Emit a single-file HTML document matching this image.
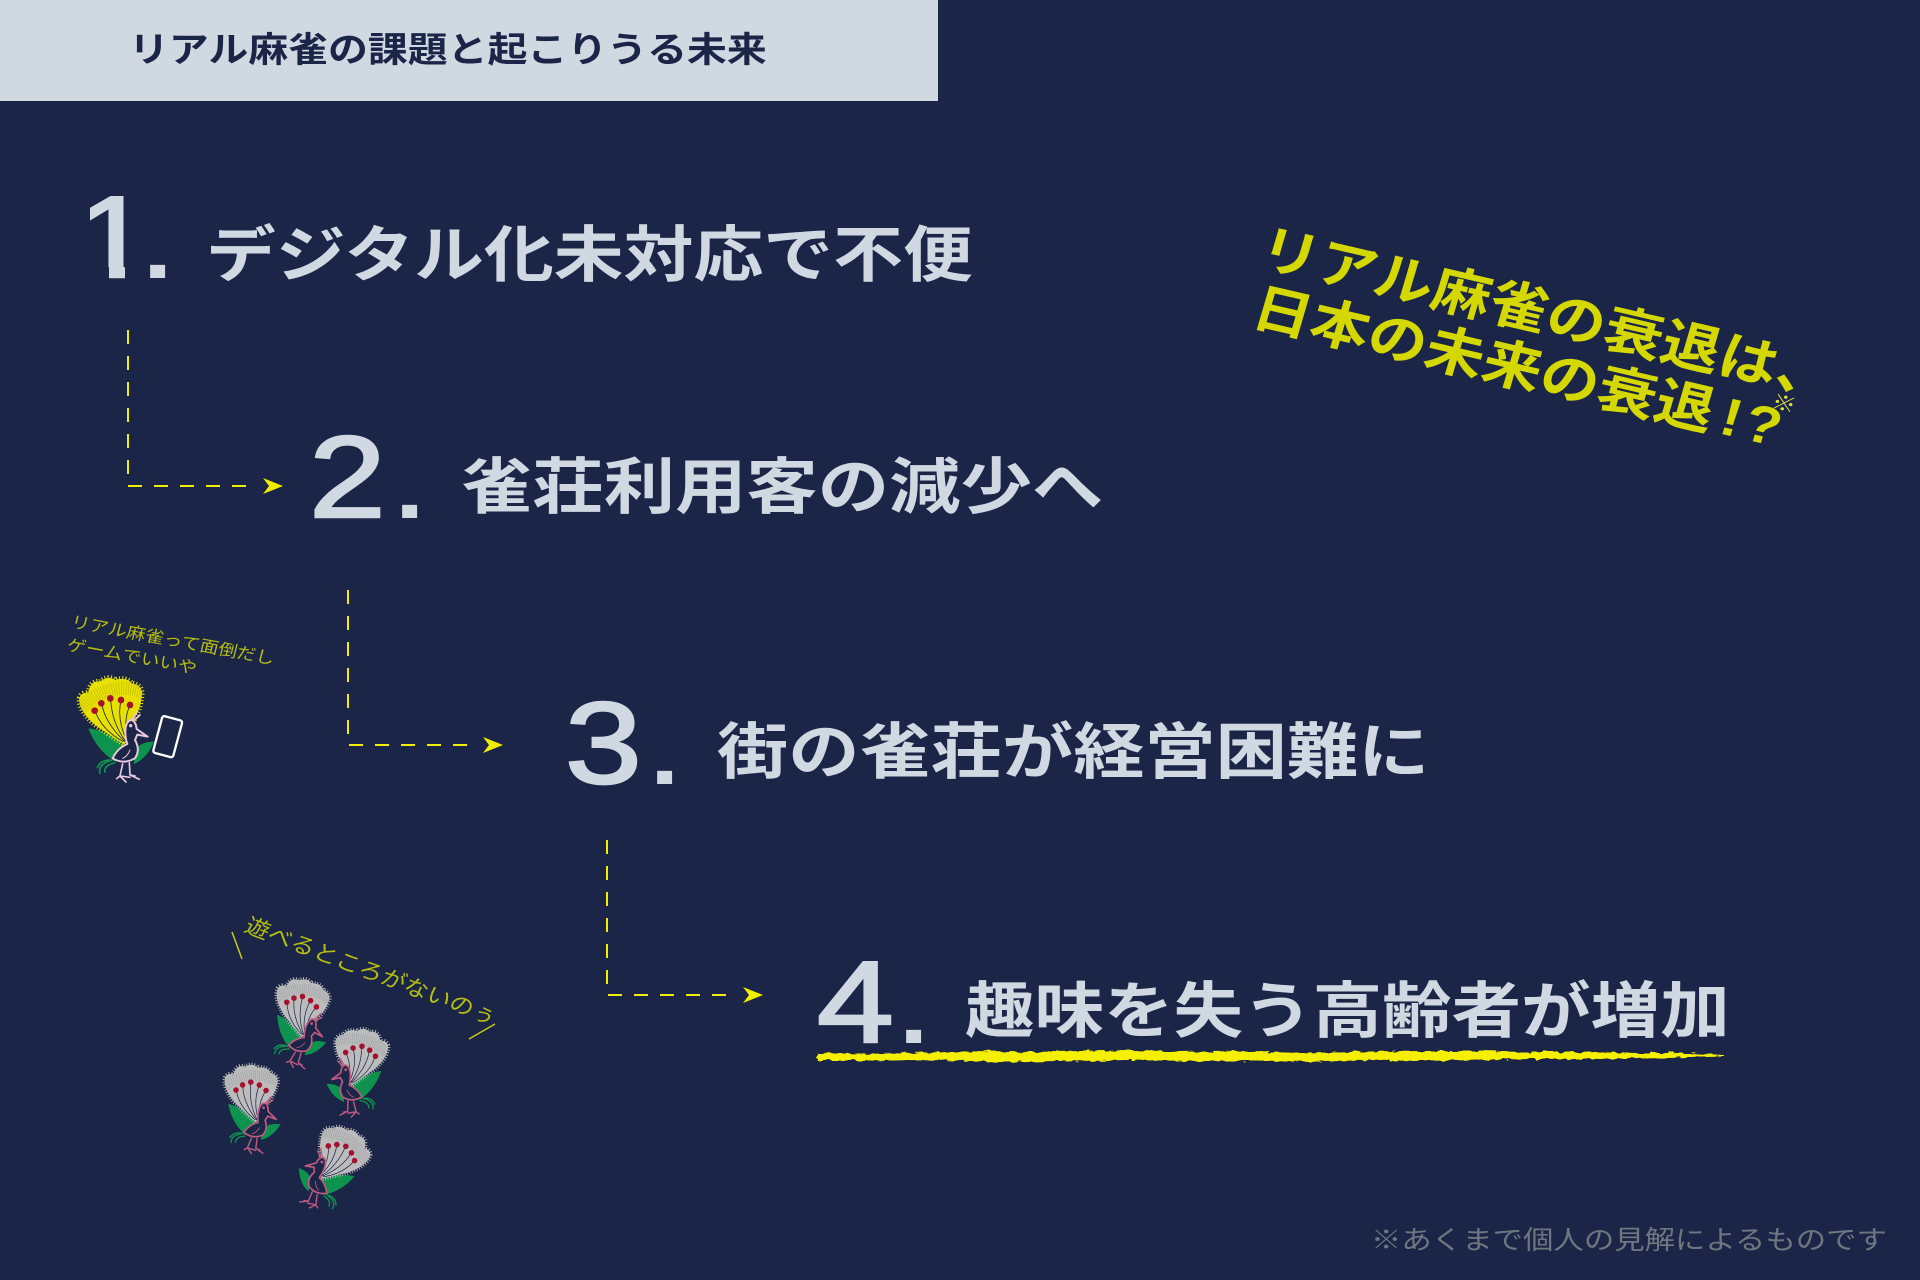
<!DOCTYPE html>
<html lang="ja"><head><meta charset="utf-8"><title>リアル麻雀の課題と起こりうる未来</title>
<style>
html,body{margin:0;padding:0;background:#1a2547}
svg{display:block}
.cjk{font-family:"Liberation Sans","Noto Sans CJK JP",sans-serif}
.t{font-weight:700;font-size:61px;fill:#d0d9e2}
.n{font-family:"Liberation Sans",sans-serif;font-size:116px;fill:#d0d9e2;stroke:#d0d9e2;stroke-width:2.5}
.d{font-family:"Liberation Sans",sans-serif;font-weight:700;font-size:88px;fill:#d0d9e2}
.dash{fill:none;stroke:#f2ee00;stroke-width:2;stroke-dasharray:14 12}
.ar{fill:#f2ee00}
.y{font-weight:700;font-size:53px;fill:#d4d800}
.s{font-size:16.500px;fill:#b5bd10}
.fan{fill:var(--fan);stroke:var(--fan);stroke-width:16;stroke-dasharray:3 6}
.stem{fill:none;stroke:#1a2547;stroke-width:2.500}
.feather{fill:none;stroke:#1a2547;stroke-width:40;stroke-dasharray:1.2 6;opacity:.3}
.dot{fill:#a5102c}
.leaf{fill:#0d934e}
.grass{fill:none;stroke:#0d934e;stroke-width:5}
.bird{fill:#1a2547;stroke:var(--bird);stroke-width:6;stroke-linejoin:round}
.line{fill:none;stroke:var(--bird);stroke-width:5;stroke-linecap:round}
</style></head>
<body>
<svg xmlns="http://www.w3.org/2000/svg" width="1920" height="1280" viewBox="0 0 1920 1280" class="cjk">
<defs>
<filter id="rough" x="-2%" y="-100%" width="104%" height="300%"><feTurbulence type="fractalNoise" baseFrequency=".12 .3" numOctaves="2" seed="4"/><feDisplacementMap in="SourceGraphic" scale="5"/></filter>
<clipPath id="fc"><path d="M250 492L172 440Q116 395 118 355Q125 335 145 340Q150 300 180 305Q205 285 225 300Q260 290 275 310Q310 315 305 350Q300 390 285 410L265 485Z"/></clipPath>
<g id="pc">
  <path class="leaf" d="M145 445Q200 450 250 495L225 545Q170 510 145 445Z"/>
  <path class="leaf" d="M282 552Q322 535 342 485Q300 485 284 512Z"/>
  <path class="grass" d="M180 582Q172 552 218 540M195 578Q190 556 226 548M210 540Q180 540 172 565"/>
  <path class="fan" d="M250 492L172 440Q116 395 118 355Q125 335 145 340Q150 300 180 305Q205 285 225 300Q260 290 275 310Q310 315 305 350Q300 390 285 410L265 485Z"/>
  <path fill="var(--fan)" d="M250 492L172 440Q116 395 118 355Q125 335 145 340Q150 300 180 305Q205 285 225 300Q260 290 275 310Q310 315 305 350Q300 390 285 410L265 485Z"/>
  <g clip-path="url(#fc)"><circle class="feather" cx="250" cy="490" r="165"/></g>
  <path class="stem" d="M250 485Q185 450 165 392M255 485Q195 430 185 370M258 485Q215 430 212 356M260 480Q230 420 243 360M262 470Q250 420 270 375"/>
  <circle class="dot" cx="164" cy="392" r="10"/><circle class="dot" cx="184" cy="370" r="10"/><circle class="dot" cx="211" cy="355" r="10"/><circle class="dot" cx="243" cy="360" r="10"/><circle class="dot" cx="270" cy="375" r="10"/>
  <path class="line" d="M278 418L292 393M284 420L300 405"/>
  <path class="line" d="M248 552L240 588L230 596M240 588L258 606M240 588L270 592M268 548L270 585L298 598M270 585L285 588"/>
  <path class="bird" d="M290 447L323 470L292 464L285 480Q302 510 285 535Q250 555 218 535Q232 505 262 492Q254 470 257 442Q262 420 275 420Q288 425 290 447Z"/>
  <circle cx="272" cy="437" r="5" fill="var(--bird)"/>
  <path class="line" d="M248 535Q262 530 270 510" style="stroke-width:3"/>
</g>
</defs>
<rect width="1920" height="1280" fill="#1a2547"/>
<rect width="938" height="101" fill="#d0d9e2"/>
<text transform="translate(129 62) scale(1.14 1)" font-size="35" font-weight="700" fill="#1a2547">リアル麻雀の課題と起こりうる未来</text>

<text class="n" transform="translate(75.500 277) scale(1.18 1)">1</text>
<rect x="74" y="267" width="35" height="14" fill="#1a2547"/><rect x="125" y="267" width="24" height="14" fill="#1a2547"/><rect x="70" y="190" width="20" height="40" fill="#1a2547"/>
<text class="d" transform="translate(143 278) scale(1.2 1)">.</text>
<text class="t" transform="translate(206 276) scale(1.145 1)">デジタル化未対応で不便</text>
<text class="n" transform="translate(309 517) scale(1.19 1)">2</text>
<text class="d" transform="translate(395 518) scale(1.2 1)">.</text>
<text class="t" transform="translate(461 508) scale(1.17 1)">雀荘利用客の減少へ</text>
<text class="n" transform="translate(565 783) scale(1.19 1)">3</text>
<text class="d" transform="translate(650 784) scale(1.2 1)">.</text>
<text class="t" transform="translate(717 773) scale(1.168 1)">街の雀荘が経営困難に</text>
<text class="n" transform="translate(817 1042) scale(1.19 1)">4</text>
<text class="d" transform="translate(899 1043) scale(1.2 1)">.</text>
<text class="t" transform="translate(965 1032) scale(1.14 1)">趣味を失う高齢者が増加</text>

<path filter="url(#rough)" fill="#f4f000" d="M817 1053L860 1054L900 1053L950 1052L990 1051L1030 1052L1080 1051L1130 1050L1180 1052L1240 1051L1300 1053L1360 1052L1420 1051L1480 1051L1530 1052L1580 1052L1640 1053L1690 1053L1724 1055L1724 1056L1690 1057L1640 1058L1590 1059L1530 1059L1480 1060L1420 1061L1370 1060L1310 1062L1260 1061L1190 1061L1130 1060L1060 1061L1000 1062L940 1060L890 1061L850 1060L817 1060Z"/>

<path class="dash" d="M128 330V486H255"/><path class="ar" d="M283 486L263 478L269 486L263 494Z"/>
<path class="dash" d="M348 590V745H475"/><path class="ar" d="M503 745L483 737L489 745L483 753Z"/>
<path class="dash" d="M607 840V995H735"/><path class="ar" d="M763 995L743 987L749 995L743 1003Z"/>

<text class="y" transform="translate(1256 265) scale(1.12 1) rotate(14.6)">リアル麻雀の衰退は、</text>
<text class="y" transform="translate(1249 324) scale(1.12 1) rotate(14.6)">日本の未来の衰退<tspan dx="8">!</tspan><tspan dx="4">?</tspan></text>
<text transform="translate(1770 408) scale(1.15 1) rotate(14.9)" font-size="21" fill="#dfe23a">※</text>

<text class="s" transform="translate(70 627) scale(1.15 1) rotate(12)">リアル麻雀って面倒だし</text>
<text class="s" transform="translate(66 650) scale(1.15 1) rotate(12)">ゲームでいいや</text>

<text transform="translate(243 931) scale(1.15 1) rotate(23.5)" font-size="21.500" fill="#b5bd10">遊べるところがないのぅ</text>
<path d="M232 932L242 959M469 1039L495 1024" stroke="#c8cc10" stroke-width="1.5" fill="none"/>

<g style="--fan:#e8e000;--bird:#e8c8dc"><use href="#pc" transform="translate(40 580) scale(.3333)"/></g>
<rect x="-31" y="-57" width="62" height="114" rx="7" transform="translate(167.700 736.700) scale(.3333) rotate(15)" fill="none" stroke="#fff" stroke-width="7"/>

<g style="--fan:#bcbcbc;--bird:#c05a80">
<use href="#pc" transform="translate(298 1023) rotate(18) scale(.28) translate(-225 -450)"/>
<use href="#pc" transform="translate(359 1073) rotate(-2) scale(-.28 .28) translate(-225 -450)"/>
<use href="#pc" transform="translate(250 1109) rotate(10) scale(.28) translate(-225 -450)"/>
<use href="#pc" transform="translate(333 1170) rotate(20) scale(-.28 .28) translate(-225 -450)"/>
</g>

<text transform="translate(1371 1249) scale(1.17 1)" font-size="26" fill="#6f7680">※あくまで個人の見解によるものです</text>
</svg>
</body></html>
